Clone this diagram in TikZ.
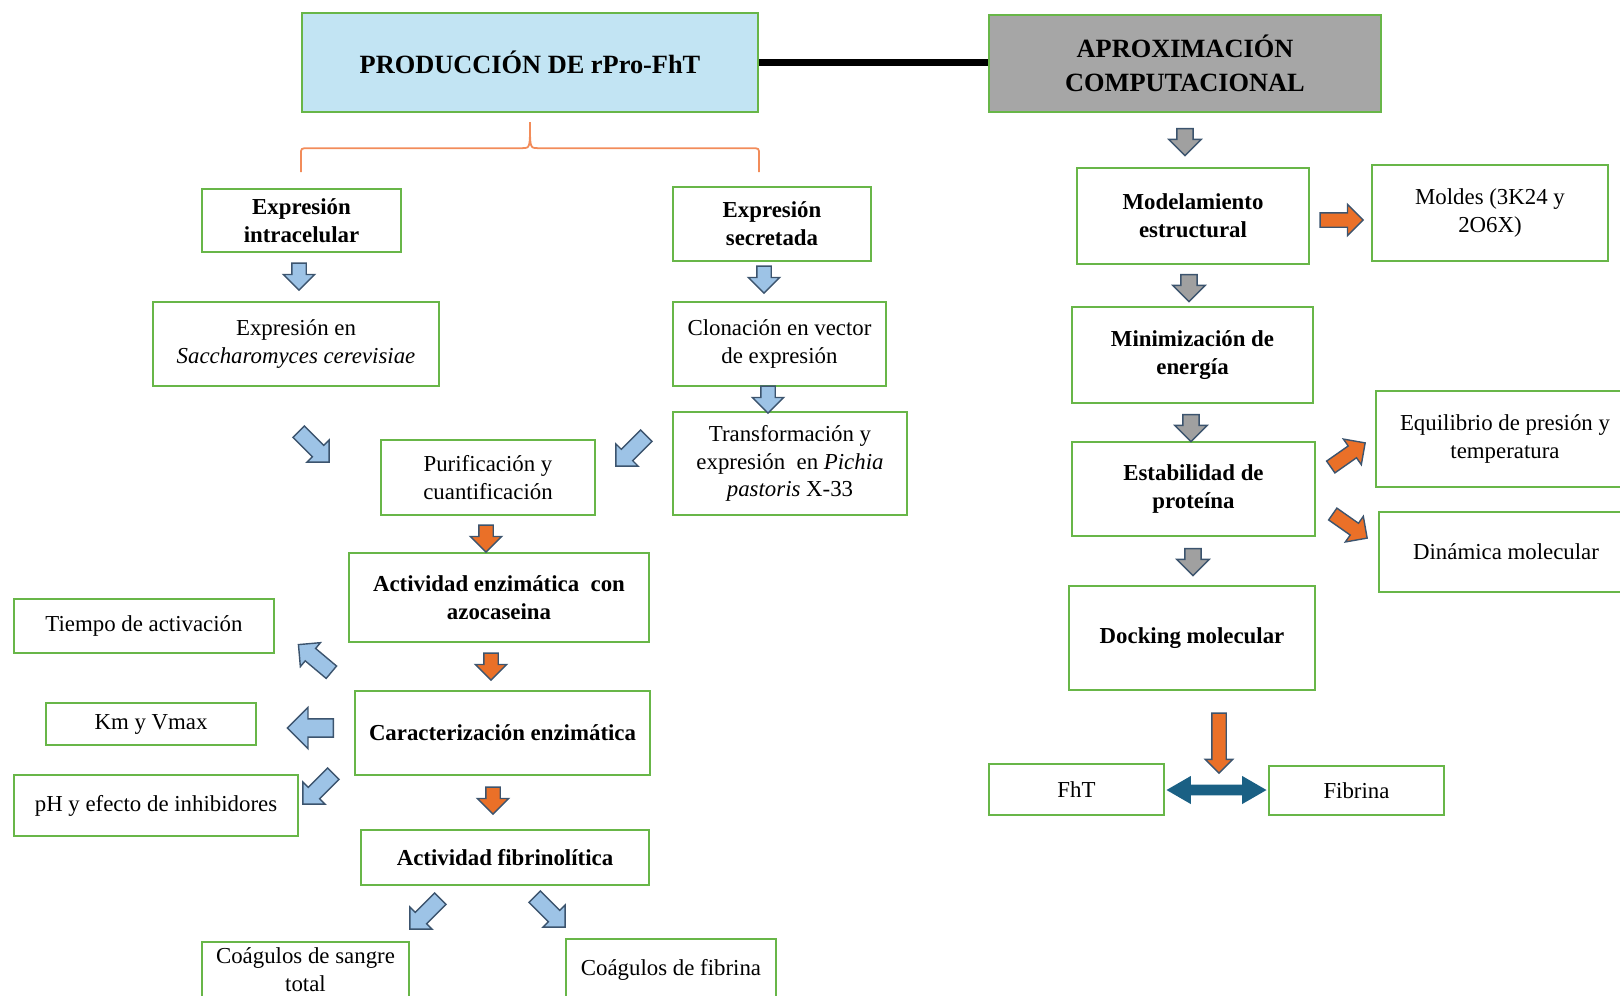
\documentclass[tikz,border=0pt]{standalone}
\usepackage{fontspec}
\setmainfont{Liberation Serif}
\usetikzlibrary{shapes.arrows,calc}

\definecolor{boxgreen}{RGB}{104,182,72}
\definecolor{prodblue}{RGB}{194,228,243}
\definecolor{aproxgray}{RGB}{166,166,166}
\definecolor{arrblue}{RGB}{157,195,230}
\definecolor{arrline}{RGB}{60,84,110}
\definecolor{arrorange}{RGB}{234,112,40}
\definecolor{arrgray}{RGB}{160,160,160}
\definecolor{arrteal}{RGB}{26,96,132}
\definecolor{braceorange}{RGB}{242,140,90}

\tikzset{
	gbox/.style={draw=boxgreen, line width=1.1pt, align=center, inner sep=2pt,
		font=\fontsize{13}{15.8}\selectfont},
	gboxb/.style={gbox, font=\fontsize{13}{15.8}\selectfont\bfseries},
	headbox/.style={gbox, line width=1.3pt, font=\fontsize{15}{19}\selectfont\bfseries},
	obrace/.style={braceorange, line width=1pt},
	fat/.style={single arrow, draw=arrline, line width=.8pt, minimum width=0pt,
		inner sep=3.7pt, single arrow head extend=4.8pt, minimum height=0.54cm},
	bluefat/.style={fat, fill=arrblue},
	orangefat/.style={fat, fill=arrorange},
	grayfat/.style={fat, fill=arrgray, inner sep=4.2pt, single arrow head extend=4.6pt},
	diagfat/.style={bluefat, inner sep=4.2pt, single arrow head extend=4.3pt, minimum height=0.86cm},
}

\begin{document}
\begin{tikzpicture}[x=0.02cm, y=-0.02cm]
	\clip (0,0) rectangle (1620,995);

	% headers
	\node[headbox, fill=prodblue, minimum width=9.12cm, minimum height=1.98cm] (prod) at (530,62.5) {PRODUCCIÓN DE rPro-FhT};
	\node[headbox, fill=aproxgray, minimum width=7.84cm, minimum height=1.94cm] (aprox) at (1185,63.5) {APROXIMACIÓN\\COMPUTACIONAL};
	\draw[line width=4.5pt] (prod.east) -- (prod.east -| aprox.west);
	\draw[obrace] ($(prod.south west)+(0,59)$) -- ++(0,-17) .. controls +(0,-7) and +(-8,0) .. ++(8,-7)
		-- ($(prod.south)+(-8,35)$) .. controls +(8,0) and +(0,26) .. ++(8,-26)
		.. controls +(0,26) and +(-8,0) .. ++(8,26)
		-- ($(prod.south east)+(-8,35)$) .. controls +(8,0) and +(0,-7) .. ++(8,7) -- ++(0,17);

	% production branch
	\node[gboxb, minimum width=3.98cm, minimum height=1.26cm] (intra) at (301.5,220.5) {Expresión\\intracelular};
	\node[gboxb, minimum width=3.96cm, minimum height=1.48cm] (secr) at (772,224) {Expresión\\secretada};
	\node[gbox, minimum width=5.72cm, minimum height=1.68cm] (sacc) at (296,344) {Expresión en\\\textit{Saccharomyces cerevisiae}};
	\node[gbox, minimum width=4.26cm, minimum height=1.68cm] (clon) at (779.5,344) {Clonación en vector\\de expresión};
	\node[gbox, minimum width=4.68cm, minimum height=2.06cm] (trans) at (790,463.5) {Transformación y\\expresión\ \ en \textit{Pichia}\\\textit{pastoris} X-33};
	\node[gbox, minimum width=4.28cm, minimum height=1.5cm] (purif) at (488,477.5) {Purificación y\\cuantificación};
	\node[gboxb, minimum width=6cm, minimum height=1.78cm] (actenz) at (499,597.5) {Actividad enzimática\ \ con\\azocaseina};
	\node[gbox, minimum width=5.2cm, minimum height=1.08cm] (tiempo) at (144,626) {Tiempo de activación};
	\node[gboxb, minimum width=5.9cm, minimum height=1.68cm] (caract) at (502.5,733) {Caracterización enzimática};
	\node[gbox, minimum width=4.2cm, minimum height=0.84cm] (kmv) at (151,724) {Km y Vmax};
	\node[gbox, minimum width=5.68cm, minimum height=1.22cm] (phinh) at (156,805.5) {pH y efecto de inhibidores};
	\node[gboxb, minimum width=5.76cm, minimum height=1.1cm] (fibact) at (505,857.5) {Actividad fibrinolítica};
	\node[gbox, anchor=north, minimum width=4.14cm, minimum height=1.1cm] (sangre) at (305.5,941) {Coágulos de sangre\\total};
	\node[gbox, minimum width=4.2cm, minimum height=1.24cm] (coagfib) at (671,970) {Coágulos de fibrina};

	% computational branch
	\node[gboxb, minimum width=4.64cm, minimum height=1.92cm] (model) at (1193,216) {Modelamiento\\estructural};
	\node[gbox, minimum width=4.72cm, minimum height=1.92cm] (moldes) at (1490,213) {Moldes (3K24 y\\2O6X)};
	\node[gboxb, minimum width=4.82cm, minimum height=1.92cm] (minim) at (1192.5,355) {Minimización de\\energía};
	\node[gboxb, minimum width=4.86cm, minimum height=1.88cm] (estab) at (1193.5,489) {Estabilidad de\\proteína};
	\node[gbox, minimum width=5.16cm, minimum height=1.92cm] (equil) at (1505,439) {Equilibrio de presión y\\temperatura};
	\node[gbox, minimum width=5.08cm, minimum height=1.6cm] (dinam) at (1506,552) {Dinámica molecular};
	\node[gboxb, minimum width=4.92cm, minimum height=2.08cm] (dock) at (1192,638) {Docking molecular};
	\node[gbox, minimum width=3.5cm, minimum height=1.02cm] (fht) at (1076.5,789.5) {FhT};
	\node[gbox, minimum width=3.5cm, minimum height=0.98cm] (fibrina) at (1356.5,790.5) {Fibrina};

	% block arrows, left
	\node[bluefat, rotate=-90] (ia) at (299,273) {};
	\node[bluefat, rotate=-90] (sa) at (764,276) {};
	\node[bluefat, rotate=-90] (ca) at (768,396) {};
	\node[diagfat, rotate=-45] (pa1) at (311,444) {};
	\node[diagfat, rotate=-135] (pa2) at (634,448) {};
	\node[orangefat, rotate=-90] (oa1) at (486,535) {};
	\node[diagfat, rotate=140] (ta) at (318,661) {};
	\node[orangefat, rotate=-90] (oa2) at (491,663) {};
	\node[bluefat, rotate=180, inner sep=4.8pt, single arrow head extend=6.5pt, minimum height=0.92cm] (ka) at (315,728) {};
	\node[diagfat, rotate=-135] (pha) at (321,786) {};
	\node[orangefat, rotate=-90] (oa3) at (493,797) {};
	\node[diagfat, rotate=-135] (fa1) at (428,911) {};
	\node[diagfat, rotate=-45] (fa2) at (547,909) {};

	% block arrows, right
	\node[grayfat, rotate=-90] (ga1) at (1185,138) {};
	\node[grayfat, rotate=-90] (ga2) at (1189,284) {};
	\node[grayfat, rotate=-90] (ga3) at (1191,424) {};
	\node[grayfat, rotate=-90] (ga4) at (1193,558) {};
	\node[orangefat, minimum height=0.86cm] (ma) at (1338,220) {};
	\node[orangefat, rotate=35, minimum height=0.84cm] (ea1) at (1345,457) {};
	\node[orangefat, rotate=-35, minimum height=0.84cm] (ea2) at (1347,524) {};
	\node[orangefat, rotate=-90, minimum height=1.2cm, single arrow head extend=3.7pt] (da) at (1219,739.5) {};
	\node[double arrow, fill=arrteal, inner sep=2.8pt, double arrow head extend=5pt,
		double arrow tip angle=60, minimum height=2cm] (fa) at ($(fht.east)!.5!(fibrina.west)$) {};
\end{tikzpicture}
\end{document}
